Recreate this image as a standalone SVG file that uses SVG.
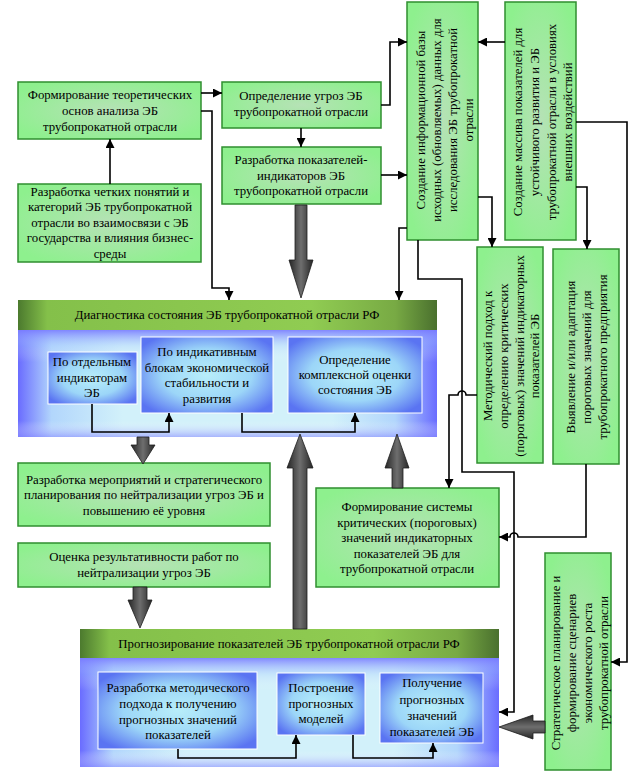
<svg xmlns="http://www.w3.org/2000/svg" width="644" height="775" viewBox="0 0 644 775">
<defs>
<radialGradient id="gg" cx="0.5" cy="0.5" r="0.6">
<stop offset="0" stop-color="#b6e2b6"/>
<stop offset="0.6" stop-color="#9eea9e"/>
<stop offset="1" stop-color="#8ef08e"/>
</radialGradient>
<linearGradient id="hdr" x1="0" y1="0" x2="1" y2="0">
<stop offset="0" stop-color="#4c7a2e"/>
<stop offset="0.07" stop-color="#84c04a"/>
<stop offset="0.7" stop-color="#90cc52"/>
<stop offset="0.9" stop-color="#78aa44"/>
<stop offset="1" stop-color="#4a702e"/>
</linearGradient>
<linearGradient id="bodyh" x1="0" y1="0" x2="1" y2="0">
<stop offset="0" stop-color="#6a6cff"/>
<stop offset="0.08" stop-color="#b2d6fc"/>
<stop offset="0.25" stop-color="#d2f1fa"/>
<stop offset="0.75" stop-color="#d2f1fa"/>
<stop offset="0.9" stop-color="#b2d6fc"/>
<stop offset="1" stop-color="#6a6cff"/>
</linearGradient>
<linearGradient id="bodyv" x1="0" y1="0" x2="0" y2="1">
<stop offset="0" stop-color="#7a7cff" stop-opacity="0.9"/>
<stop offset="0.15" stop-color="#a8c8ff" stop-opacity="0.3"/>
<stop offset="0.3" stop-color="#ffffff" stop-opacity="0"/>
<stop offset="0.85" stop-color="#ffffff" stop-opacity="0"/>
<stop offset="1" stop-color="#8a8cff" stop-opacity="0.6"/>
</linearGradient>
<radialGradient id="ib" cx="0.5" cy="0.5" r="0.62">
<stop offset="0" stop-color="#b8eefa"/>
<stop offset="0.55" stop-color="#9cd6f8"/>
<stop offset="1" stop-color="#5a74f2"/>
</radialGradient>
<linearGradient id="ga" x1="0" y1="0" x2="1" y2="0">
<stop offset="0" stop-color="#262626"/>
<stop offset="0.5" stop-color="#6e6e6e"/>
<stop offset="1" stop-color="#262626"/>
</linearGradient>
<linearGradient id="gav" x1="0" y1="0" x2="0" y2="1">
<stop offset="0" stop-color="#262626"/>
<stop offset="0.5" stop-color="#6e6e6e"/>
<stop offset="1" stop-color="#262626"/>
</linearGradient>
<marker id="ah" viewBox="0 0 10 10" refX="10" refY="5" markerWidth="9" markerHeight="9" markerUnits="userSpaceOnUse" orient="auto">
<path d="M0,0 L10,5 L0,10 z" fill="#000"/>
</marker>
</defs>
<style>
.gb{fill:url(#gg);stroke:#2f8f2f;stroke-width:1.5}
.hd{fill:url(#hdr)}
.bh{fill:url(#bodyh)}
.bv{fill:url(#bodyv)}
.ib{fill:url(#ib);stroke:#ffffff;stroke-width:1}
.t{font-family:"Liberation Serif","Times New Roman",serif;font-size:12.8px;text-anchor:middle;fill:#000}
.c{fill:none;stroke:#000;stroke-width:1.6;marker-end:url(#ah)}
.ba{fill:url(#ga);stroke:#1e1e1e;stroke-width:0.8}
.bah{fill:url(#gav);stroke:#1e1e1e;stroke-width:0.8}
</style>
<rect width="644" height="775" fill="#ffffff"/>

<g id="diag-group">
<rect class="hd" x="18" y="300" width="419" height="30"/>
<rect class="bh" x="18" y="330" width="419" height="107"/>
<rect class="bv" x="18" y="330" width="419" height="107"/>
<text class="t" x="227" y="319">Диагностика состояния ЭБ трубопрокатной отрасли РФ</text>
</g>
<g id="diag-1">
<rect class="ib" x="48" y="352" width="89" height="52"/>
<text class="t" x="92" y="366">По отдельным</text>
<text class="t" x="92" y="382">индикаторам</text>
<text class="t" x="92" y="397">ЭБ</text>
</g>
<g id="diag-2">
<rect class="ib" x="141" y="337" width="132" height="76"/>
<text class="t" x="207" y="356">По индикативным</text>
<text class="t" x="207" y="372">блокам экономической</text>
<text class="t" x="207" y="387">стабильности и</text>
<text class="t" x="207" y="403">развития</text>
</g>
<g id="diag-3">
<rect class="ib" x="288" y="337" width="134" height="76"/>
<text class="t" x="355" y="364">Определение</text>
<text class="t" x="355" y="379">комплексной оценки</text>
<text class="t" x="355" y="394">состояния ЭБ</text>
</g>

<g id="prog-group">
<rect class="hd" x="80" y="629" width="419" height="29"/>
<rect class="bh" x="80" y="658" width="419" height="109"/>
<rect class="bv" x="80" y="658" width="419" height="109"/>
<text class="t" x="289" y="648">Прогнозирование показателей ЭБ трубопрокатной отрасли РФ</text>
</g>
<g id="prog-1">
<rect class="ib" x="98" y="672" width="159" height="77"/>
<text class="t" x="178" y="692">Разработка методического</text>
<text class="t" x="178" y="708">подхода к получению</text>
<text class="t" x="178" y="724">прогнозных значений</text>
<text class="t" x="178" y="739">показателей</text>
</g>
<g id="prog-2">
<rect class="ib" x="277" y="673" width="88" height="62"/>
<text class="t" x="321" y="692">Построение</text>
<text class="t" x="321" y="708">прогнозных</text>
<text class="t" x="321" y="723">моделей</text>
</g>
<g id="prog-3">
<rect class="ib" x="380" y="673" width="103" height="70"/>
<text class="t" x="432" y="687">Получение</text>
<text class="t" x="432" y="704">прогнозных</text>
<text class="t" x="432" y="720">значений</text>
<text class="t" x="432" y="736">показателей ЭБ</text>
</g>

<g id="n-theory">
<rect class="gb" x="18" y="82" width="183" height="57"/>
<text class="t" x="110" y="99">Формирование теоретических</text>
<text class="t" x="110" y="115">основ анализа ЭБ</text>
<text class="t" x="110" y="131">трубопрокатной отрасли</text>
</g>
<g id="n-concepts">
<rect class="gb" x="18" y="184" width="183" height="78"/>
<text class="t" x="110" y="196">Разработка четких понятий и</text>
<text class="t" x="110" y="211">категорий ЭБ трубопрокатной</text>
<text class="t" x="110" y="227">отрасли во взаимосвязи с ЭБ</text>
<text class="t" x="110" y="242">государства и влияния бизнес-</text>
<text class="t" x="110" y="258">среды</text>
</g>
<g id="n-threats">
<rect class="gb" x="222" y="82" width="159" height="46"/>
<text class="t" x="301" y="100">Определение угроз ЭБ</text>
<text class="t" x="301" y="116">трубопрокатной отрасли</text>
</g>
<g id="n-indicators">
<rect class="gb" x="222" y="147" width="159" height="57"/>
<text class="t" x="301" y="164">Разработка показателей-</text>
<text class="t" x="301" y="180">индикаторов ЭБ</text>
<text class="t" x="301" y="195">трубопрокатной отрасли</text>
</g>
<g id="n-infobase">
<rect class="gb" x="407" y="2" width="71" height="238"/>
<g transform="translate(0,120) rotate(-90)">
<text class="t" x="0" y="425">Создание  информационной  базы</text>
<text class="t" x="0" y="441">исходных (обновляемых) данных для</text>
<text class="t" x="0" y="457">исследования ЭБ трубопрокатной</text>
<text class="t" x="0" y="473">отрасли</text>
</g>
</g>
<g id="n-array">
<rect class="gb" x="505" y="2" width="71" height="238"/>
<g transform="translate(0,122) rotate(-90)">
<text class="t" x="0" y="522">Создание  массива показателей для</text>
<text class="t" x="0" y="539">устойчивого развития и ЭБ</text>
<text class="t" x="0" y="556">трубопрокатной отрасли в условиях</text>
<text class="t" x="0" y="572">внешних  воздействий</text>
</g>
</g>
<g id="n-method">
<rect class="gb" x="477" y="247" width="66" height="216"/>
<g transform="translate(0,356) rotate(-90)">
<text class="t" x="0" y="492">Методический подход к</text>
<text class="t" x="0" y="508">определению критических</text>
<text class="t" x="0" y="524">(пороговых) значений индикаторных</text>
<text class="t" x="0" y="539">показателей ЭБ</text>
</g>
</g>
<g id="n-adapt">
<rect class="gb" x="553" y="249" width="66" height="215"/>
<g transform="translate(0,357) rotate(-90)">
<text class="t" x="0" y="575">Выявление и/или адаптация</text>
<text class="t" x="0" y="591">пороговых значений для</text>
<text class="t" x="0" y="607">трубопрокатного предприятия</text>
</g>
</g>
<g id="n-system">
<rect class="gb" x="316" y="488" width="183" height="99"/>
<text class="t" x="407" y="511">Формирование системы</text>
<text class="t" x="407" y="527">критических  (пороговых)</text>
<text class="t" x="407" y="542">значений индикаторных</text>
<text class="t" x="407" y="558">показателей ЭБ для</text>
<text class="t" x="407" y="573">трубопрокатной отрасли</text>
</g>
<g id="n-measures">
<rect class="gb" x="18" y="463" width="252" height="63"/>
<text class="t" x="144" y="484">Разработка мероприятий и стратегического</text>
<text class="t" x="144" y="499">планирования по нейтрализации угроз ЭБ и</text>
<text class="t" x="144" y="515">повышению её уровня</text>
</g>
<g id="n-evaluation">
<rect class="gb" x="18" y="543" width="252" height="44"/>
<text class="t" x="144" y="561">Оценка результативности работ  по</text>
<text class="t" x="144" y="577">нейтрализации угроз ЭБ</text>
</g>
<g id="n-strategy">
<rect class="gb" x="545" y="553" width="66" height="217"/>
<g transform="translate(0,663) rotate(-90)">
<text class="t" x="0" y="560">Стратегическое планирование и</text>
<text class="t" x="0" y="576">формирование сценариев</text>
<text class="t" x="0" y="592">экономического роста</text>
<text class="t" x="0" y="608">трубопрокатной отрасли</text>
</g>
</g>

<g id="connectors">
<path class="c" d="M201,93 H222"/>
<path class="c" d="M201,111 H212 V288 H229 V300"/>
<path class="c" d="M110,184 V139"/>
<path class="c" d="M301,128 V147"/>
<path class="c" d="M381,105 H390 V42 H407"/>
<path class="c" d="M381,175 H407"/>
<path class="c" d="M505,42 H478"/>
<path class="c" d="M478,197 H492 V247"/>
<path class="c" d="M576,187 H587 V249"/>
<path class="c" d="M576,122 H627 V662 H611"/>
<path class="c" d="M407,228 H399 V300"/>
<path class="c" d="M418,240 V279 H462 V472 H514 V712 H499"/>
<path class="c" d="M477,395 H466 A4,4 0 0 0 458,395 H449 V488"/>
<path class="c" d="M586,464 V537 H518 A4,4 0 0 0 510,537 H499"/>
<path class="c" d="M92,404 V432 H169 V413"/>
<path class="c" d="M242,413 V432 H355 V413"/>
<path class="c" d="M178,749 V758 H296 V735"/>
<path class="c" d="M353,735 V758 H433 V743"/>
<path class="ba" d="M295,205 H307 V260 H313 L301,298 L289,260 H295 Z"/>
<path class="ba" d="M137,437 H149 V445 H155 L143,464 L131,445 H137 Z"/>
<path class="ba" d="M133,587 H147 V600 H152 L140,628 L128,600 H133 Z"/>
<path class="ba" d="M293,629 V468 H287 L300,434 L313,468 H307 V629 Z"/>
<path class="ba" d="M392,488 V468 H385 L397,434 L409,468 H403 V488 Z"/>
<path class="bah" d="M545,721 H533 V715 L499,727 L533,739 V733 H545 Z"/>
</g>
</svg>
